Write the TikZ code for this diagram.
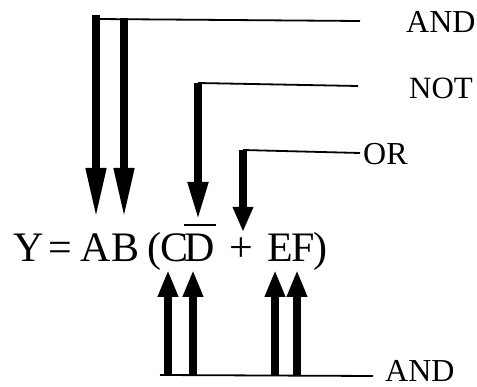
\documentclass[tikz,border=0pt]{standalone}
\usepackage{fontspec}
\setmainfont{Liberation Serif}
\usetikzlibrary{arrows.meta}
\begin{document}
\begin{tikzpicture}[x=1pt,y=-1pt,
  eqch/.style={inner sep=0pt,anchor=base,font=\fontsize{42}{42}\selectfont},
  lbl/.style={inner sep=0pt,anchor=west,font=\fontsize{32}{32}\selectfont},
  thinline/.style={line width=1.8pt},
  bigarrow/.style={line width=7.5pt,-{Triangle[width=19pt,length=#1]}},
  bigarrow/.default=27pt]
\useasboundingbox (0,0) rectangle (477,387);
% equation letters
\node[eqch] (Y) at (29,262) {Y};
\node[eqch] (eq) at (60,262) {=};
\node[eqch] (A) at (96,262) {A};
\node[eqch] (B) at (126,262) {B};
\node[eqch] (lp) at (154,262) {(};
\node[eqch] (C) at (175,262) {C};
\node[eqch] (D) at (200,262) {D};
\node[eqch] (plus) at (241,262) {+};
\node[eqch] (E) at (280,262) {E};
\node[eqch] (F) at (303,262) {F};
\node[eqch] (rp) at (320,262) {)};
\draw[line width=1.8pt] ([xshift=-1pt,yshift=9pt]D.north west) -- ([xshift=1pt,yshift=9pt]D.north east);
% labels
\node[lbl] (andtop) at (406,22) {AND};
\node[lbl,font=\fontsize{31}{31}\selectfont] (not) at (409,88) {NOT};
\node[lbl] (or) at (363,154) {OR};
\node[lbl] (andbot) at (385,371) {AND};
% top AND
\coordinate (ta1) at (96,15);
\coordinate (ta2) at (124,18);
\coordinate (taE) at (360,21);
\coordinate (tipA) at (96,218);
\coordinate (tipB) at (124,218);
\draw[thinline] (96,19) -- (taE);
\draw[bigarrow=50pt] (ta1) -- (tipA);
\draw[bigarrow=50pt] (ta2) -- (tipB);
% NOT
\coordinate (nc) at (198,83);
\coordinate (nE) at (358,86);
\coordinate (tipN) at (198,220);
\draw[thinline] (nc) -- (nE);
\draw[bigarrow=38pt] (nc) -- (tipN);
% OR
\coordinate (oc) at (243,150);
\coordinate (oE) at (360,153);
\coordinate (tipO) at (243,232);
\draw[thinline] (oc) -- (oE);
\draw[bigarrow=25pt] (oc) -- (tipO);
% bottom AND
\coordinate (bS) at (160,375);
\coordinate (bE) at (373,376);
\draw[thinline] (bS) -- (bE);
\foreach \x/\n in {168/C,193/D,275/E,297/F}{
  \coordinate (bot\n) at (\x,376);
  \coordinate (tip\n) at (\x,270);
  \draw[bigarrow] (bot\n) -- (tip\n);
}
\end{tikzpicture}
\end{document}
